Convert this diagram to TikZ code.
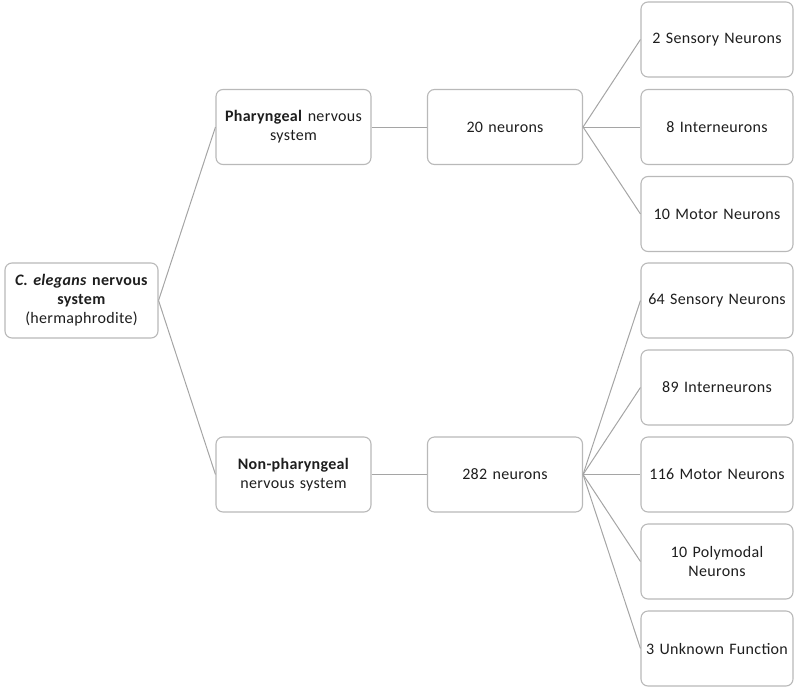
\documentclass[tikz,border=0pt]{standalone}
\usepackage{fontspec}
\setmainfont{Carlito}[LetterSpace=2]
\hyphenpenalty=10000
\exhyphenpenalty=10000
\definecolor{boxline}{RGB}{185,185,185}
\definecolor{conn}{RGB}{165,165,165}
\definecolor{txt}{RGB}{30,30,30}
\begin{document}
\begin{tikzpicture}[x=1pt,y=-1pt,
  box/.style={draw=boxline, line width=1.1pt, rounded corners=7pt, fill=white,
    minimum height=75pt, align=center, text=txt,
    font=\fontsize{16}{19}\selectfont, inner sep=2pt},
  colA/.style={box, minimum width=151pt, text width=149pt},
  colB/.style={box, minimum width=153pt, text width=151pt},
  colR/.style={box, minimum width=150pt, text width=148pt},
  link/.style={draw=conn, line width=1pt}]
\useasboundingbox (0,0) rectangle (800,688);
% nodes
\node[colA] (root) at (81.5,300.5) {\textbf{\textit{C. elegans} nervous}\\\textbf{system}\\(hermaphrodite)};
\node[colB] (phar) at (293.5,127) {\textbf{Pharyngeal} nervous\\system};
\node[colB] (nonphar) at (293.5,474.5) {\textbf{Non-pharyngeal}\\nervous system};
\node[colB] (n20) at (505,127) {20 neurons};
\node[colB] (n282) at (505,474.5) {282 neurons};
\node[colR] (r1) at (717,39.5) {2 Sensory Neurons};
\node[colR] (r2) at (717,127) {8 Interneurons};
\node[colR] (r3) at (717,214) {10 Motor Neurons};
\node[colR] (r4) at (717,300.5) {64 Sensory Neurons};
\node[colR] (r5) at (717,387.5) {89 Interneurons};
\node[colR] (r6) at (717,474.5) {116 Motor Neurons};
\node[colR] (r7) at (717,561.5) {10 Polymodal\\Neurons};
\node[colR] (r8) at (717,648.5) {3 Unknown Function};
% connectors
\draw[link] (root.east) -- (phar.west);
\draw[link] (root.east) -- (nonphar.west);
\draw[link] (phar.east) -- (n20.west);
\draw[link] (nonphar.east) -- (n282.west);
\foreach \r in {r1,r2,r3} \draw[link] (n20.east) -- (\r.west);
\foreach \r in {r4,r5,r6,r7,r8} \draw[link] (n282.east) -- (\r.west);
\end{tikzpicture}
\end{document}
